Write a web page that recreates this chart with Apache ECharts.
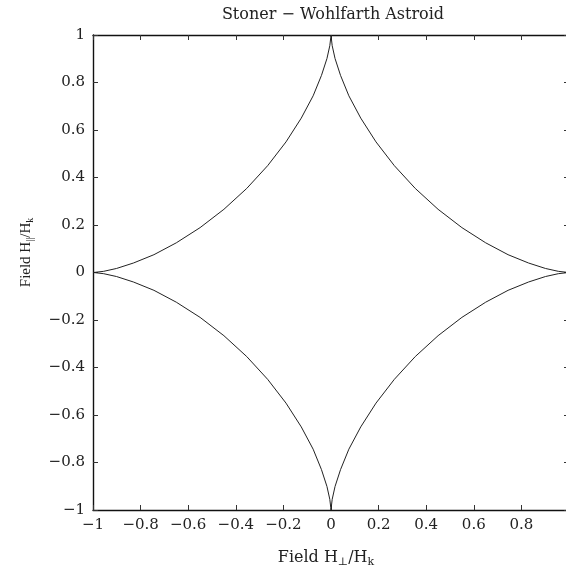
<!DOCTYPE html>
<html>
<head>
<meta charset="utf-8">
<script src="https://cdn.jsdelivr.net/npm/echarts@6/dist/echarts.min.js"></script>
<style>html,body{margin:0;padding:0;background:#fff;}#c{width:566px;height:574px;}</style>
</head>
<body>
<div id="c"></div>
<script>
var titleText = 'Stoner \u2212 Wohlfarth Astroid';
var xTicks = [-1, -0.8, -0.6, -0.4, -0.2, 0, 0.2, 0.4, 0.6, 0.8, 1];
var yTicks = [-1, -0.8, -0.6, -0.4, -0.2, 0, 0.2, 0.4, 0.6, 0.8, 1];
var curveX = [
  1, .989, .955, .901, .830, .744, .650, .550, .450, .354, .266, .189, .125, .075, .040, .017, .005, .001, 0,
  -.001, -.005, -.017, -.040, -.075, -.125, -.189, -.266, -.354, -.450, -.550, -.650, -.744, -.830, -.901, -.955, -.989, -1,
  -.989, -.955, -.901, -.830, -.744, -.650, -.550, -.450, -.354, -.266, -.189, -.125, -.075, -.040, -.017, -.005, -.001, 0,
  .001, .005, .017, .040, .075, .125, .189, .266, .354, .450, .550, .650, .744, .830, .901, .955, .989, 1
];
var curveY = [
  0, .001, .005, .017, .040, .075, .125, .189, .266, .354, .450, .550, .650, .744, .830, .901, .955, .989, 1,
  .989, .955, .901, .830, .744, .650, .550, .450, .354, .266, .189, .125, .075, .040, .017, .005, .001, 0,
  -.001, -.005, -.017, -.040, -.075, -.125, -.189, -.266, -.354, -.450, -.550, -.650, -.744, -.830, -.901, -.955, -.989, -1,
  -.989, -.955, -.901, -.830, -.744, -.650, -.550, -.450, -.354, -.266, -.189, -.125, -.075, -.040, -.017, -.005, -.001, 0
];

var WIDE = '"DejaVu Serif", "Liberation Serif", serif';
var NARROW = '"Liberation Serif", "DejaVu Serif", serif';
var pts = curveX.map(function (x, i) { return [x, curveY[i]]; });
function fmt(v) {
  var s = String(+(+v).toFixed(1));
  return s.replace('-', '\u2212');
}
var axisLine = { show: true, onZero: false, lineStyle: { color: '#111', width: 1.4 } };
var tick = { show: true, inside: true, length: 5, lineStyle: { color: '#333', width: 1 } };
var richX = {
  a: { fontFamily: WIDE, fontSize: 16, color: '#222' },
  s: { fontFamily: WIDE, fontSize: 11, color: '#222', padding: [9, 0, 0, 0] }
};
var richY = {
  a: { fontFamily: NARROW, fontSize: 15, color: '#222' },
  s: { fontFamily: NARROW, fontSize: 10, color: '#222', padding: [8, 0, 0, 0] }
};

var chart = echarts.init(document.getElementById('c'), null, { renderer: 'canvas' });
chart.setOption({
  animation: false,
  backgroundColor: '#fff',
  title: {
    text: titleText, left: 328, top: 2, textAlign: 'center',
    textStyle: { fontFamily: WIDE, fontSize: 16, fontWeight: 'normal', color: '#222' }
  },
  grid: { left: 93, top: 35, width: 476, height: 475, containLabel: false, outerBoundsMode: 'none' },
  xAxis: [{
    type: 'value', position: 'bottom', min: xTicks[0], max: xTicks[xTicks.length - 1], interval: 0.2,
    axisLine: axisLine, axisTick: tick, splitLine: { show: false },
    axisLabel: { margin: 8, fontFamily: WIDE, fontSize: 15, color: '#222', formatter: fmt },
    name: '{a|Field H}{s|\u22a5}{a|/H}{s|k}', nameLocation: 'middle', nameGap: 38,
    nameTextStyle: { rich: richX, padding: [0, 10, 0, 0] }
  }, {
    type: 'value', position: 'top', min: xTicks[0], max: xTicks[xTicks.length - 1], interval: 0.2,
    axisLine: axisLine, axisTick: tick, splitLine: { show: false }, axisLabel: { show: false }
  }],
  yAxis: [{
    type: 'value', position: 'left', min: yTicks[0], max: yTicks[yTicks.length - 1], interval: 0.2,
    axisLine: axisLine, axisTick: tick, splitLine: { show: false },
    axisLabel: { margin: 8, fontFamily: WIDE, fontSize: 15, color: '#222', formatter: fmt },
    name: '{a|Field H}{s|||}{a|/H}{s|k}', nameLocation: 'middle', nameGap: 58, nameRotate: 90,
    nameTextStyle: { rich: richY, padding: [0, 0, 0, 40] }
  }, {
    type: 'value', position: 'right', min: yTicks[0], max: yTicks[yTicks.length - 1], interval: 0.2,
    axisLine: axisLine, axisTick: tick, splitLine: { show: false }, axisLabel: { show: false }
  }],
  series: [{
    type: 'line', data: pts, showSymbol: false, symbol: 'none', smooth: false,
    lineStyle: { color: '#222', width: 1 }, silent: true
  }]
});
</script>
</body>
</html>
